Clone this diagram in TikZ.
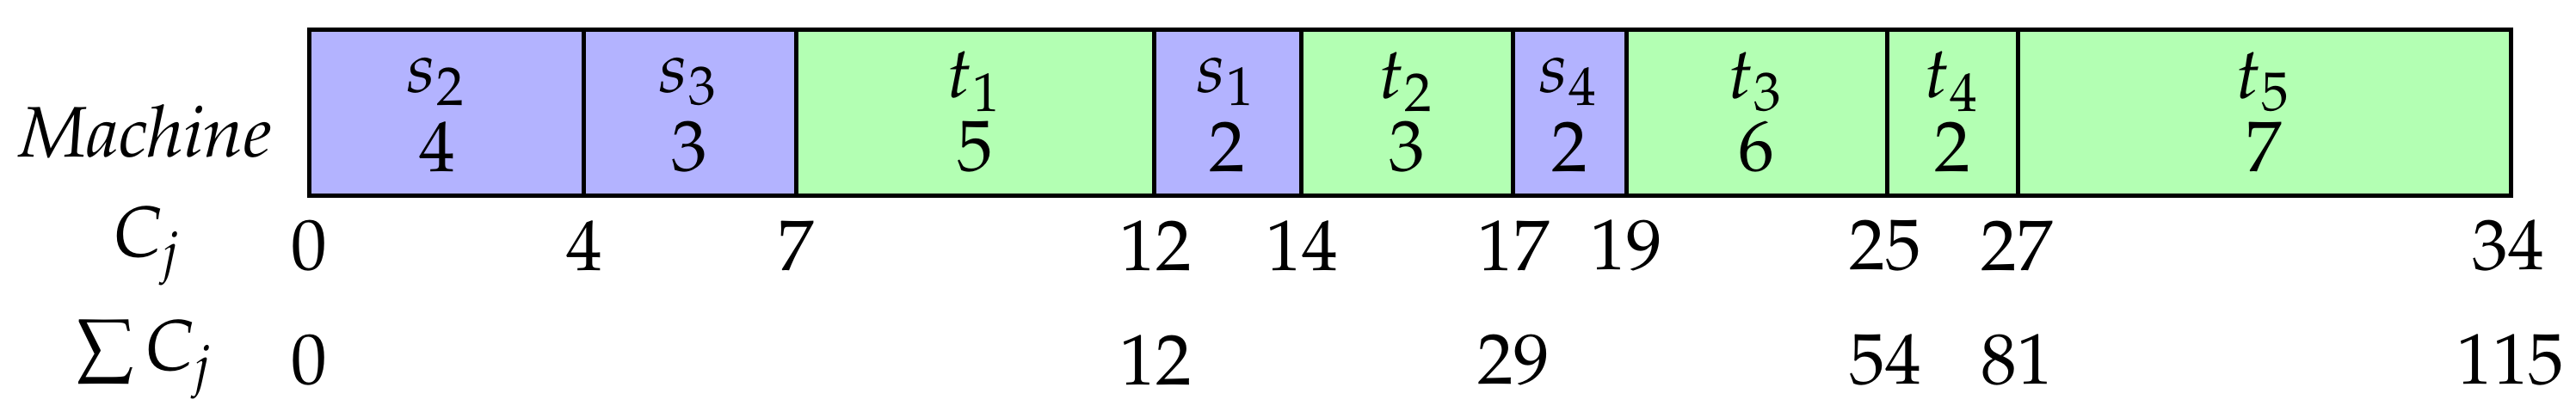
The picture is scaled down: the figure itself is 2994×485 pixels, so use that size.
\documentclass[tikz,border=0pt]{standalone}
\usepackage[T1]{fontenc}
\usepackage{mathpazo}
\definecolor{sblue}{RGB}{179,179,255}
\definecolor{tgreen}{RGB}{179,255,179}
\tikzset{
  jobbox/.style={draw=black, line width=0.6pt},
  lab/.style={inner sep=0pt, anchor=center},
}
\newcommand\jobblock[7]{%
  \filldraw[jobbox, fill=#3] (#1,34) rectangle (#2,227);
  \node[lab] (#6s) at (#7,95) {$#4$};
  \node[lab] (#6n) at (#7,171) {#5};
}
\begin{document}
\begin{tikzpicture}[x=0.12pt, y=-0.12pt]
\useasboundingbox (0,0) rectangle (2994,485);
\jobblock{359}{678}{sblue}{s_2}{4}{a}{508}
\jobblock{678}{925}{sblue}{s_3}{3}{b}{801}
\jobblock{925}{1341}{tgreen}{t_1}{5}{c}{1133}
\jobblock{1341}{1512}{sblue}{s_1}{2}{d}{1426}
\jobblock{1512}{1758}{tgreen}{t_2}{3}{e}{1635}
\jobblock{1758}{1890}{sblue}{s_4}{2}{f}{1824}
\jobblock{1890}{2193}{tgreen}{t_3}{6}{g}{2041}
\jobblock{2193}{2345}{tgreen}{t_4}{2}{h}{2269}
\jobblock{2345}{2918}{tgreen}{t_5}{7}{i}{2631}
\draw[jobbox] (359,34) rectangle (2918,227);
\node[lab] (mach) at (169,153) {\textit{Machine}};
\node[lab] (cj) at (172,286) {$C_j$};
\node[lab] (scj) at (169,418) {$\sum C_j$};
\foreach \x/\v [count=\k] in {359/0,679/4,925/7,1343/12,1513/14,1759/17,1890/19,2191/25,2344/27,2915/34}
  \node[lab] (c\k) at (\x,286) {\v};
\foreach \x/\v [count=\k] in {359/0,1343/12,1759/29,2191/54,2344/81,2918/115}
  \node[lab] (sc\k) at (\x,419) {\v};
\end{tikzpicture}
\end{document}
